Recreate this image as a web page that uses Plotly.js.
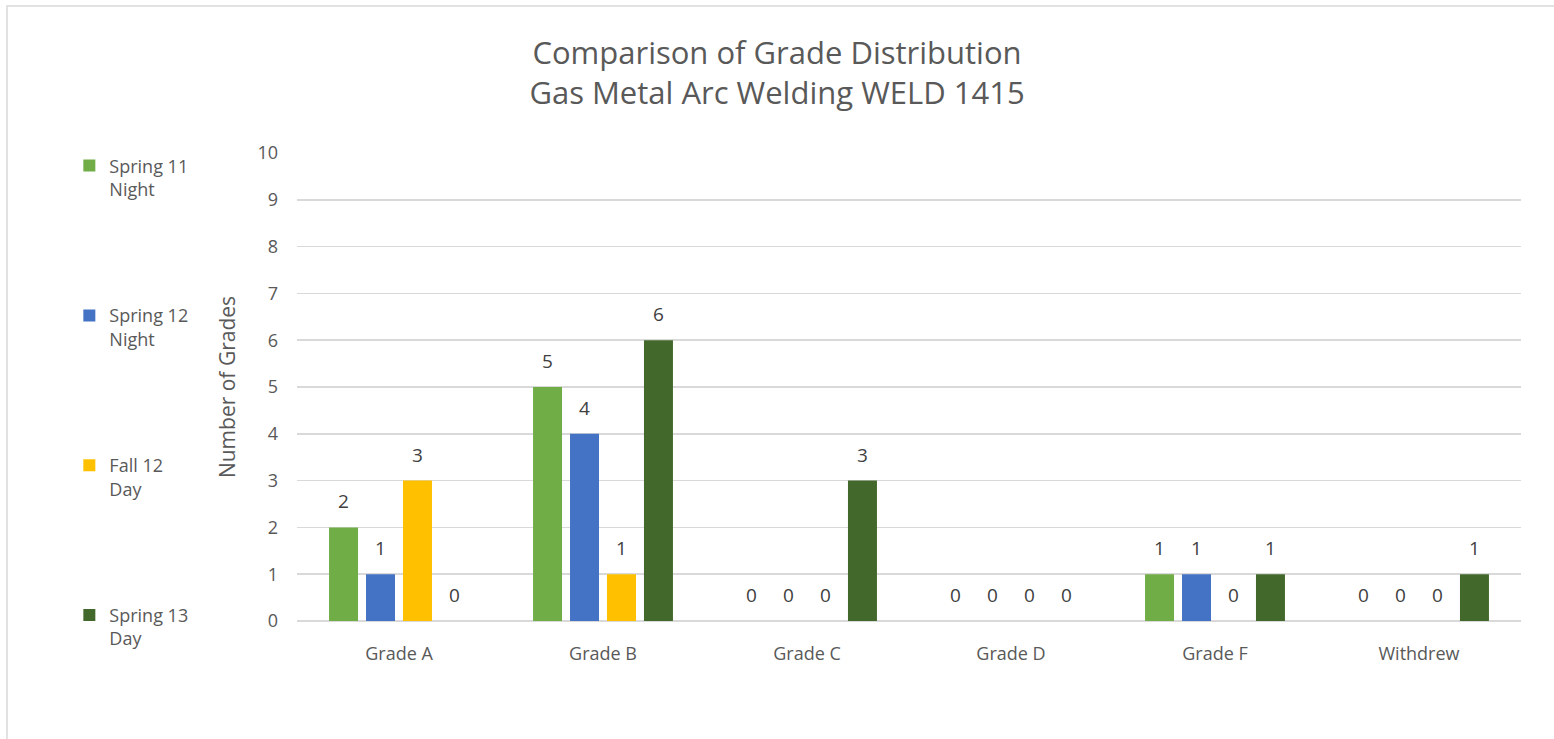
<!DOCTYPE html>
<html>
<head>
<meta charset="utf-8">
<script src="https://cdn.plot.ly/plotly-3.0.1.min.js"></script>
<style>html,body{margin:0;padding:0;background:#fff;}#chart{width:1554px;height:739px;}</style>
</head>
<body>
<div id="chart"></div>
<script>
const categories = ["Grade A", "Grade B", "Grade C", "Grade D", "Grade F", "Withdrew"];
const seriesNames = ["Spring 11<br>Night", "Spring 12<br>Night", "Fall 12<br>Day", "Spring 13<br>Day"];
const spring11Night = [2, 5, 0, 0, 1, 0];
const spring12Night = [1, 4, 0, 0, 1, 0];
const fall12Day = [3, 1, 0, 0, 0, 0];
const spring13Day = [0, 6, 3, 0, 1, 1];
const yTicks = [0,1,2,3,4,5,6,7,8,9,10];

const colors = ["#70ad47", "#4472c4", "#ffc000", "#43682b"];
const allSeries = [spring11Night, spring12Night, fall12Day, spring13Day];
const FONT = "'Open Sans', Lato, sans-serif";

const traces = allSeries.map((vals, i) => ({
  type: "bar",
  name: seriesNames[i],
  x: categories,
  y: vals,
  marker: {color: colors[i]},
  text: vals.map(v => "<span style='font-size:19px'>" + String(v) + "</span><br>&#160;"),
  textposition: "outside",
  textfont: {family: FONT, size: 10, color: "#404040"},
  cliponaxis: false,
  legendgroup: "g" + i,
  hoverinfo: "x+y+name"
}));

const layout = {
  width: 1554, height: 739,
  margin: {l: 297, r: 33, t: 153, b: 118},
  paper_bgcolor: "#fff", plot_bgcolor: "#fff",
  font: {family: FONT, color: "#595959", size: 18},
  title: {
    text: "Comparison of Grade Distribution<br>Gas Metal Arc Welding WELD 1415",
    font: {family: FONT, size: 31, color: "#595959"},
    x: 0.5, xanchor: "center", xref: "container",
    y: 1 - 64 / 739, yanchor: "middle", yref: "container"
  },
  barmode: "group",
  bargap: 0.275,
  bargroupgap: 0.216,
  xaxis: {
    type: "category",
    showgrid: false, showline: false, zeroline: false,
    ticks: "", ticklabelstandoff: 20,
    tickfont: {family: FONT, size: 18, color: "#595959"}
  },
  yaxis: {
    range: [0, 10], tickvals: yTicks, ticktext: yTicks.map(String),
    showgrid: true, gridcolor: "#d9d9d9", gridwidth: 1.5,
    zeroline: true, zerolinecolor: "#d9d9d9", zerolinewidth: 1.5,
    showline: false, ticks: "", ticklabelstandoff: 18,
    tickfont: {family: FONT, size: 18, color: "#595959"},
    title: {text: "Number of Grades", font: {family: FONT, size: 21, color: "#595959"}, standoff: 16}
  },
  showlegend: true,
  legend: {
    x: -0.186, xanchor: "left", y: 1.012, yanchor: "top",
    orientation: "v", traceorder: "grouped", tracegroupgap: 100,
    valign: "top", itemwidth: 30, maxheight: 720,
    font: {family: FONT, size: 18, color: "#595959"},
    bgcolor: "rgba(0,0,0,0)"
  },
  shapes: [{
    type: "rect", xref: "paper", yref: "paper",
    x0: (7 - 297) / 1224, x1: 1.2, y0: -0.5, y1: (621 - 6) / 468,
    line: {color: "#d9d9d9", width: 1.5}, fillcolor: "rgba(0,0,0,0)", layer: "below"
  }]
};

Plotly.newPlot("chart", traces, layout, {displayModeBar: false, staticPlot: true});
</script>
</body>
</html>
